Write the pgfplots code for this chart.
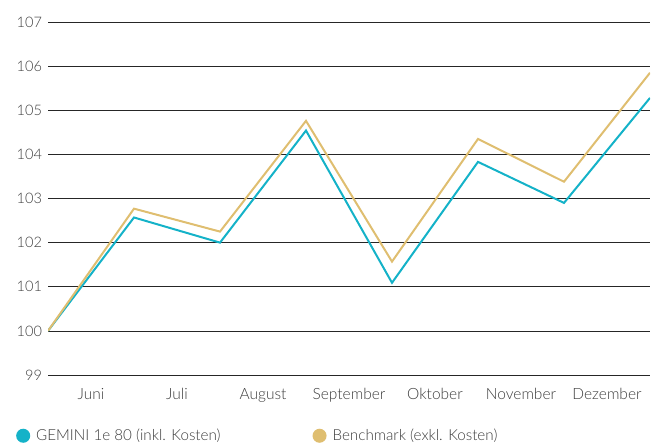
\documentclass[border=0pt]{standalone}
\usepackage{pgfplots}
\pgfplotsset{compat=1.18}
\usepackage{fontspec}
\setmainfont{Lato}[UprightFont=* Light]
\definecolor{gem}{RGB}{20,178,200}
\definecolor{bm}{RGB}{223,190,112}
\definecolor{txt}{RGB}{60,60,60}
\begin{document}
\begin{tikzpicture}[x=1pt,y=1pt]
\path[use as bounding box] (0,0) rectangle (660,445);
\begin{axis}[
  at={(48pt,70pt)}, anchor=south west,
  scale only axis, width=602pt, height=353pt,
  xmin=0, xmax=7, ymin=99, ymax=107,
  axis line style={draw=none},
  ymajorgrids, grid style={black!85, line width=0.7pt},
  major tick length=0pt,
  xtick={0.5,1.5,2.5,3.5,4.5,5.5,6.5},
  xticklabels={Juni,Juli,August,September,Oktober,November,Dezember},
  ytick={99,100,...,107},
  /pgf/number format/assume math mode=true,
  yticklabel style={font=\fontsize{14.5}{16}\selectfont, text=txt, xshift=-2.5pt},
  xticklabel style={font=\fontsize{15.5}{17}\selectfont, text=txt, yshift=-9.5pt},
  legend columns=2,
  legend image code/.code={\fill[#1] (0pt,0pt) circle (6pt); \path[draw=none,fill=none] (0pt,0pt) -- (11pt,0pt);},
  legend style={draw=none, fill=none, at={(axis description cs:0,0)}, anchor=north west,
    xshift=-35pt, yshift=-50pt, font=\fontsize{15.2}{17}\selectfont, text=txt,
    /tikz/every even column/.append style={column sep=90pt}},
]
\addplot[gem, line width=2pt, line join=miter] coordinates {
 (0,100) (1,102.57) (2,102.0) (3,104.54) (4,101.09) (5,103.83) (6,102.9) (7,105.28)};
\addlegendentry{GEMINI 1e 80 (inkl. Kosten)}
\addplot[bm, line width=2pt, line join=miter] coordinates {
 (0,100) (1,102.77) (2,102.25) (3,104.76) (4,101.57) (5,104.35) (6,103.38) (7,105.85)};
\addlegendentry{Benchmark (exkl. Kosten)}
\end{axis}
\end{tikzpicture}
\end{document}
